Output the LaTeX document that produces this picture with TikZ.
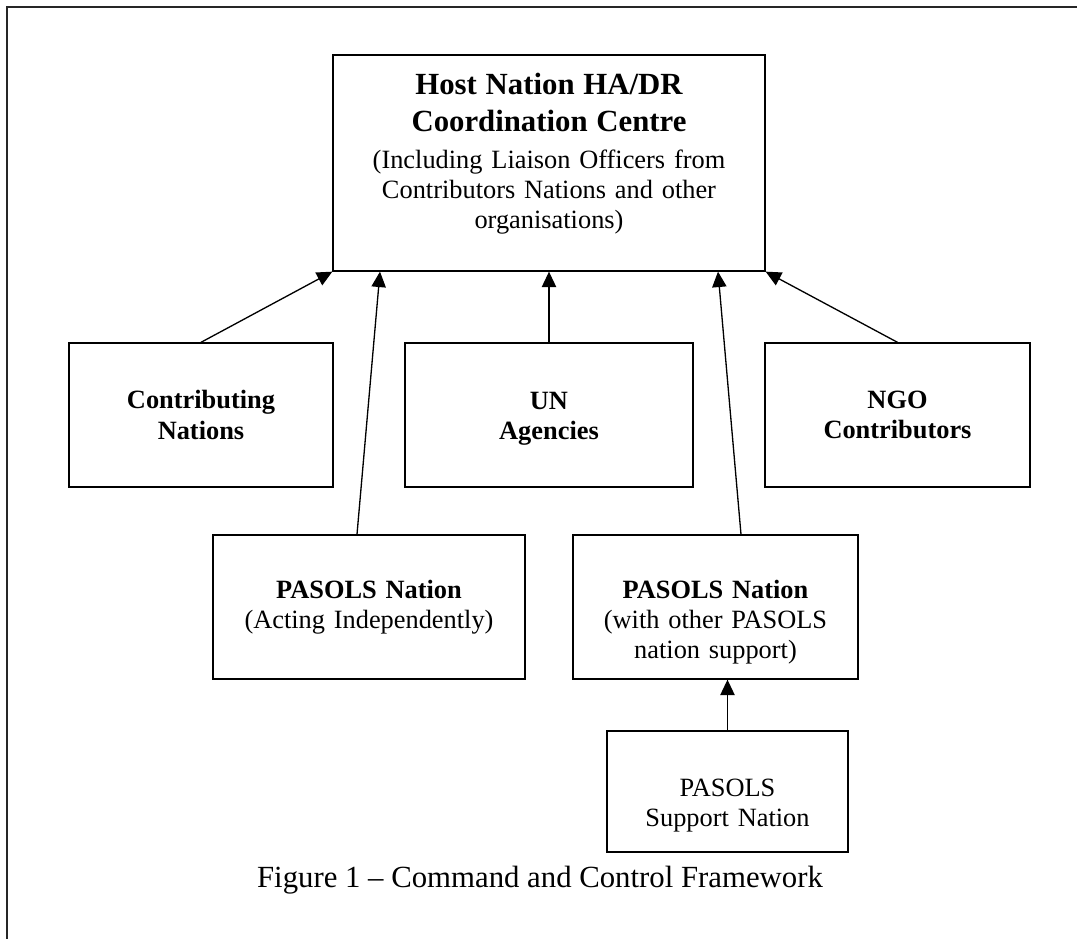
\documentclass[tikz,border=0pt]{standalone}
\usepackage{fontspec}
\setmainfont{Liberation Serif}
\usetikzlibrary{arrows.meta,calc}
\newcommand{\pxu}{0.455pt}
\tikzset{
  >={Triangle[length=7pt,width=6.5pt]},
  orgbox/.style={
    rectangle,
    draw=black, line width=0.6pt,
    align=center,
    inner sep=0pt,
    font=\fontsize{12}{13.8}\selectfont},
  link/.style={draw, line width=0.6pt, ->},
  frame/.style={line width=0.9pt, black!85},
  caption/.style={font=\fontsize{14}{16}\selectfont},
}

\begin{document}
\begin{tikzpicture}[x=\pxu, y=-\pxu]
  \useasboundingbox (0,0) rectangle (1077,939);
  \draw[frame] (7,939) -- (7,7) -- (1077,7);

  % coordination centre
  \node[orgbox, minimum width=432*\pxu, minimum height=216*\pxu, text width=190pt]
    (host) at (549,163)
    {{\fontsize{14}{16.8}\selectfont\bfseries Host Nation HA/DR\\Coordination Centre\par}
     \vspace{3pt}
     (Including Liaison Officers from\\Contributors Nations and other\\
     organisations)\rule[-11pt]{0pt}{11pt}};

  % contributors
  \node[orgbox, minimum width=264*\pxu, minimum height=144*\pxu, text width=115pt]
    (contrib) at (201,415) {\bfseries Contributing\\Nations};
  \node[orgbox, minimum width=288*\pxu, minimum height=144*\pxu, text width=125pt]
    (un) at (549,415) {\bfseries\rule{0pt}{11pt}UN\\Agencies};
  \node[orgbox, minimum width=265*\pxu, minimum height=144*\pxu, text width=115pt]
    (ngo) at (897.5,415) {\bfseries NGO\\Contributors};

  % PASOLS nations
  \node[orgbox, minimum width=312*\pxu, minimum height=144*\pxu, text width=136pt]
    (indep) at (369,607) {\textbf{PASOLS Nation}\\(Acting Independently)};
  \node[orgbox, minimum width=285*\pxu, minimum height=144*\pxu, text width=124pt]
    (withsup) at (715.5,607)
    {\rule{0pt}{22pt}\textbf{PASOLS Nation}\\(with other PASOLS\\nation support)};
  \node[orgbox, minimum width=241*\pxu, minimum height=121*\pxu, text width=104pt]
    (support) at (727.5,791.5) {\rule{0pt}{20.6pt}PASOLS\\Support Nation};

  \node[caption] (cap) at (540,880) {Figure 1 – Command and Control Framework};

  % links
  \draw[link] (contrib.north) -- (host.south west);
  \draw[link] ($(indep.north)+(-12,0)$) -- ($(host.south)+(-169,0)$);
  \draw[link] (un.north) -- (host.south);
  \draw[link] ($(withsup.north)+(25.5,0)$) -- ($(host.south)+(169,0)$);
  \draw[link] (ngo.north) -- (host.south east);
  \draw[link] (support.north) -- (support.north |- withsup.south);
\end{tikzpicture}
\end{document}
